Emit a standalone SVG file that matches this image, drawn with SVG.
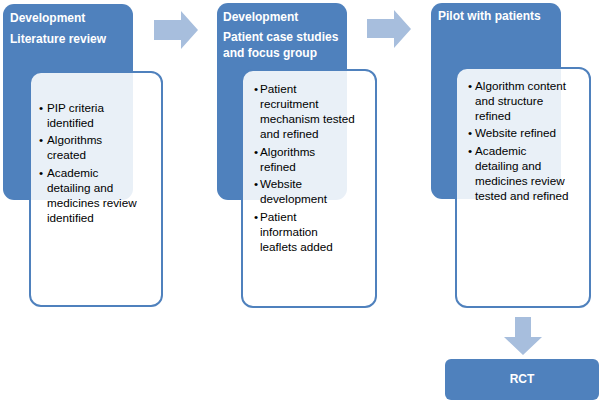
<svg xmlns="http://www.w3.org/2000/svg" width="600" height="401" viewBox="0 0 600 401">
<style>
.dark{fill:#4f81bd}
.inner{fill:#ffffff;fill-opacity:0.88;stroke:#4f81bd;stroke-width:2}
.arrow{fill:#a7bedd}
.title{font-family:"Liberation Sans",Arial,sans-serif;font-size:12px;font-weight:bold;fill:#ffffff}
.body{font-family:"Liberation Sans",Arial,sans-serif;font-size:11.7px;fill:#000000}
</style>
<rect width="600" height="401" fill="#ffffff"/>
<g id="connectors">
<polygon class="arrow" points="154,20 181,20 181,11 198,30 181,49 181,40 154,40"/>
<polygon class="arrow" points="367,19 394,19 394,10 411,29 394,48 394,38 367,38"/>
<polygon class="arrow" points="515,317 531,317 531,337 542,337 523,355 504,337 515,337"/>
</g>
<g id="stage1">
<rect class="dark" x="3" y="4" width="130" height="196" rx="11"/>
<text class="title" x="10" y="22">Development</text>
<text class="title" x="10" y="43">Literature review</text>
<rect class="inner" x="30" y="72" width="132" height="234" rx="11"/>
<text class="body" x="39" y="112">•</text><text class="body" x="47" y="112">PIP criteria</text>
<text class="body" x="47" y="127">identified</text>
<text class="body" x="39" y="144">•</text><text class="body" x="47" y="144">Algorithms</text>
<text class="body" x="47" y="159">created</text>
<text class="body" x="39" y="177">•</text><text class="body" x="47" y="177">Academic</text>
<text class="body" x="47" y="192">detailing and</text>
<text class="body" x="47" y="207">medicines review</text>
<text class="body" x="47" y="222">identified</text>
</g>
<g id="stage2">
<rect class="dark" x="217" y="3" width="130" height="197" rx="11"/>
<text class="title" x="223" y="21">Development</text>
<text class="title" x="223" y="41">Patient case studies</text>
<text class="title" x="223" y="57">and focus group</text>
<rect class="inner" x="242" y="70" width="134" height="237" rx="11"/>
<text class="body" x="254" y="93">•</text><text class="body" x="260" y="93">Patient</text>
<text class="body" x="260" y="108">recruitment</text>
<text class="body" x="260" y="123">mechanism tested</text>
<text class="body" x="260" y="138">and refined</text>
<text class="body" x="254" y="156">•</text><text class="body" x="260" y="156">Algorithms</text>
<text class="body" x="260" y="171">refined</text>
<text class="body" x="254" y="188">•</text><text class="body" x="260" y="188">Website</text>
<text class="body" x="260" y="203">development</text>
<text class="body" x="254" y="221">•</text><text class="body" x="260" y="221">Patient</text>
<text class="body" x="260" y="236">information</text>
<text class="body" x="260" y="251">leaflets added</text>
</g>
<g id="stage3">
<rect class="dark" x="431" y="3" width="130" height="196" rx="11"/>
<text class="title" x="438" y="20">Pilot with patients</text>
<rect class="inner" x="456" y="68" width="134" height="239" rx="11"/>
<text class="body" x="468" y="90">•</text><text class="body" x="475" y="90">Algorithm content</text>
<text class="body" x="475" y="105">and structure</text>
<text class="body" x="475" y="120">refined</text>
<text class="body" x="468" y="137">•</text><text class="body" x="475" y="137">Website refined</text>
<text class="body" x="468" y="155">•</text><text class="body" x="475" y="155">Academic</text>
<text class="body" x="475" y="170">detailing and</text>
<text class="body" x="475" y="185">medicines review</text>
<text class="body" x="475" y="200">tested and refined</text>
</g>
<g id="rct">
<rect class="dark" x="445" y="359" width="154" height="41" rx="6"/>
<text class="title" x="522" y="383" text-anchor="middle">RCT</text>
</g>
</svg>
